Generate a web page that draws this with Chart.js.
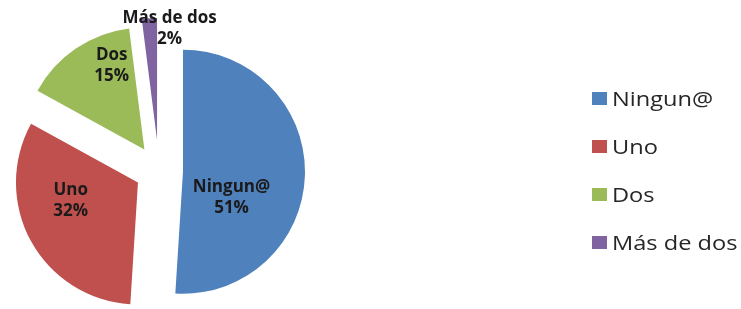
<!DOCTYPE html>
<html>
<head>
<meta charset="utf-8">
<script src="https://cdn.jsdelivr.net/npm/chart.js@4/dist/chart.umd.min.js"></script>
<style>
  html, body { margin: 0; padding: 0; background: #fff; }
  .wrap { position: relative; width: 741px; height: 309px; overflow: hidden; }
  #pie { position: absolute; left: 0; top: 0; }
  .legend {
    position: absolute; left: 592px; top: 74px; margin: 0; padding: 0; list-style: none;
    font-family: "Open Sans", sans-serif; font-size: 20px; color: #262626;
  }
  .legend li { display: flex; align-items: center; height: 48px; white-space: nowrap; }
  .legend .swatch { display: inline-block; width: 15px; height: 13px; margin-right: 5px; }
  .legend .name { display: inline-block; transform: scaleX(1.18); transform-origin: left center; }
</style>
</head>
<body>
<div class="wrap">
  <canvas id="pie" width="741" height="309"></canvas>
  <ul class="legend" id="legend"></ul>
</div>
<script>
const categories = ["Ningun@", "Uno", "Dos", "Más de dos"];
const shares = [51, 32, 15, 2];
const sliceColors = ["#4f81bd", "#c0504d", "#9bbb59", "#8064a2"];
// how far each slice is pulled out (chart.js divides this by 4)
const sliceOffsets = [96, 96, 104, 124];

// chart.js grows and narrows offset slices a bit; undo that while drawing
const keepRadius = {
  id: "keepRadius",
  beforeDatasetDraw(chart, args) {
    args.meta.data.forEach((arc) => {
      const fix = 1 - Math.sin(Math.min(Math.PI, arc.circumference || 0));
      const grow = ((arc.options.offset || 0) / 4) * fix;
      const widen = grow / Math.PI / arc.outerRadius / 2;
      arc._saved = [arc.outerRadius, arc.startAngle, arc.endAngle];
      arc.outerRadius -= grow;
      arc.startAngle -= widen;
      arc.endAngle += widen;
    });
  },
  afterDatasetDraw(chart, args) {
    args.meta.data.forEach((arc) => {
      [arc.outerRadius, arc.startAngle, arc.endAngle] = arc._saved;
    });
  },
};

const sliceLabels = {
  id: "sliceLabels",
  afterDatasetsDraw(chart, args, opts) {
    const { ctx } = chart;
    const meta = chart.getDatasetMeta(0);
    ctx.save();
    ctx.font = opts.font;
    ctx.fillStyle = opts.color;
    ctx.textAlign = "center";
    ctx.textBaseline = "middle";
    meta.data.forEach((arc, i) => {
      const mid = (arc.startAngle + arc.endAngle) / 2;
      const push = (arc.options.offset || 0) / 4;
      const a = mid + (opts.shift[i] * Math.PI) / 180;
      const r = opts.dist[i] * arc.outerRadius;
      const lx = arc.x + Math.cos(mid) * push + Math.cos(a) * r;
      const ly = arc.y + Math.sin(mid) * push + Math.sin(a) * r;
      const lines = [categories[i], shares[i] + "%"];
      lines.forEach((t, k) => {
        ctx.fillText(t, lx, ly + (k - 0.5) * opts.lineHeight);
      });
    });
    ctx.restore();
  },
};

const chart = new Chart(document.getElementById("pie"), {
  type: "pie",
  data: {
    labels: categories,
    datasets: [
      {
        data: shares,
        backgroundColor: sliceColors,
        borderWidth: 0,
        offset: sliceOffsets,
        hoverOffset: 0,
      },
    ],
  },
  options: {
    responsive: false,
    animation: false,
    devicePixelRatio: 1,
    radius: 122,
    layout: { padding: { left: 0, right: 423, top: 33, bottom: 0 } },
    plugins: {
      legend: { display: false },
      tooltip: { enabled: false },
      sliceLabels: {
        font: "bold 17px 'Open Sans', sans-serif",
        color: "#1a1a1a",
        lineHeight: 21,
        shift: [26, 14, 13, 10],
        dist: [0.45, 0.57, 0.74, 0.92],
      },
    },
  },
  plugins: [keepRadius, sliceLabels],
});

// html legend built from the same arrays
const legendEl = document.getElementById("legend");
legendEl.innerHTML = categories
  .map((name, i) => {
    return `<li><span class="swatch" style="background:${sliceColors[i]}"></span><span class="name">${name}</span></li>`;
  })
  .join("");
</script>
</body>
</html>
